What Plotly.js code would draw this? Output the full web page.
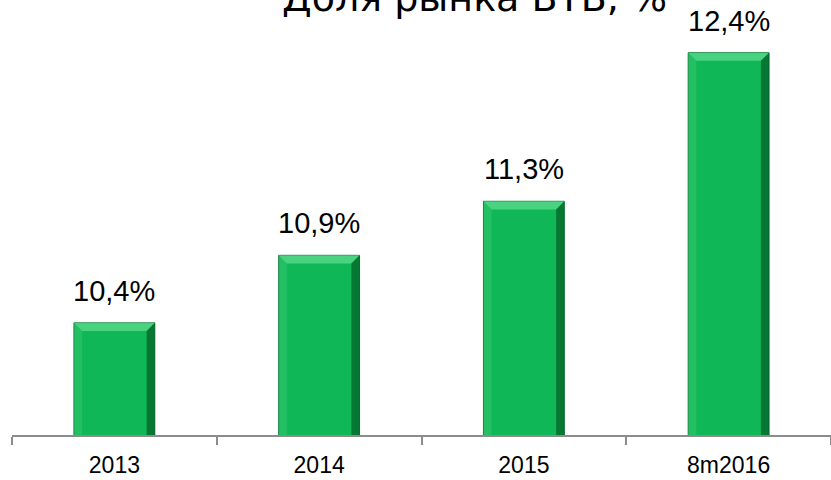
<!DOCTYPE html>
<html>
<head>
<meta charset="utf-8">
<script src="https://cdn.plot.ly/plotly-3.0.1.min.js"></script>
<style>html,body{margin:0;padding:0;background:#fff;}#chart{width:831px;height:480px;}</style>
</head>
<body>
<div id="chart"></div>
<script>
const categories = ["2013", "2014", "2015", "8m2016"];
const shareValues = [10.4, 10.9, 11.3, 12.4];
const titleText = "Доля рынка ВТБ, %";

const yMin = 9.57, yMax = 12.79;
const barWidth = 0.395;
const labels = shareValues.map(v => v.toFixed(1).replace('.', ',') + '%');

const bevX = 0.04, bevY = 0.06;
const shapes = [];
shareValues.forEach((v, i) => {
  const x0 = i - barWidth / 2, x1 = i + barWidth / 2;
  shapes.push({type: 'path', xref: 'x', yref: 'y', layer: 'above', line: {width: 0},
    fillcolor: 'rgba(120,235,165,0.55)',
    path: `M${x0},${v} L${x1},${v} L${x1 - bevX},${v - bevY} L${x0 + bevX},${v - bevY} Z`});
  shapes.push({type: 'path', xref: 'x', yref: 'y', layer: 'above', line: {width: 0},
    fillcolor: 'rgba(0,70,25,0.55)',
    path: `M${x1},${v} L${x1},${yMin} L${x1 - bevX},${yMin} L${x1 - bevX},${v - bevY} Z`});
  shapes.push({type: 'path', xref: 'x', yref: 'y', layer: 'above', line: {width: 0},
    fillcolor: 'rgba(90,220,140,0.25)',
    path: `M${x0},${v} L${x0 + bevX},${v - bevY} L${x0 + bevX},${yMin} L${x0},${yMin} Z`});
});

const annotations = shareValues.map((v, i) => ({
  x: i, y: v, xref: 'x', yref: 'y', text: labels[i], showarrow: false,
  yanchor: 'bottom', yshift: 14,
  font: {family: 'Liberation Sans Narrow, Liberation Sans, sans-serif', size: 29, color: '#000'}
}));
annotations.push({
  x: 0.565, y: 1, xref: 'paper', yref: 'paper', text: titleText, showarrow: false,
  xanchor: 'center', yanchor: 'bottom', yshift: -22,
  font: {family: 'DejaVu Sans, sans-serif', size: 38, color: '#000'}
});

const trace = {
  type: 'bar', x: categories, y: shareValues, width: barWidth,
  marker: {color: '#10B756', line: {color: '#0B7A3A', width: 1}},
  hoverinfo: 'none', cliponaxis: false
};

const layout = {
  width: 831, height: 480,
  margin: {l: 12, r: 0, t: 0, b: 45, pad: 0},
  paper_bgcolor: '#fff', plot_bgcolor: '#fff',
  showlegend: false,
  xaxis: {
    type: 'category', range: [-0.5, 3.5], showline: true, linecolor: '#8c8c8c', linewidth: 2,
    ticks: 'outside', tickson: 'boundaries', ticklen: 8, tickcolor: '#8c8c8c', tickwidth: 2,
    ticklabelstandoff: 8,
    showgrid: false, zeroline: false,
    tickfont: {family: 'Liberation Sans, sans-serif', size: 23, color: '#000'}
  },
  yaxis: {range: [yMin, yMax], visible: false, showgrid: false, zeroline: false},
  shapes: shapes,
  annotations: annotations
};

Plotly.newPlot('chart', [trace], layout, {staticPlot: true, displayModeBar: false});
</script>
</body>
</html>
